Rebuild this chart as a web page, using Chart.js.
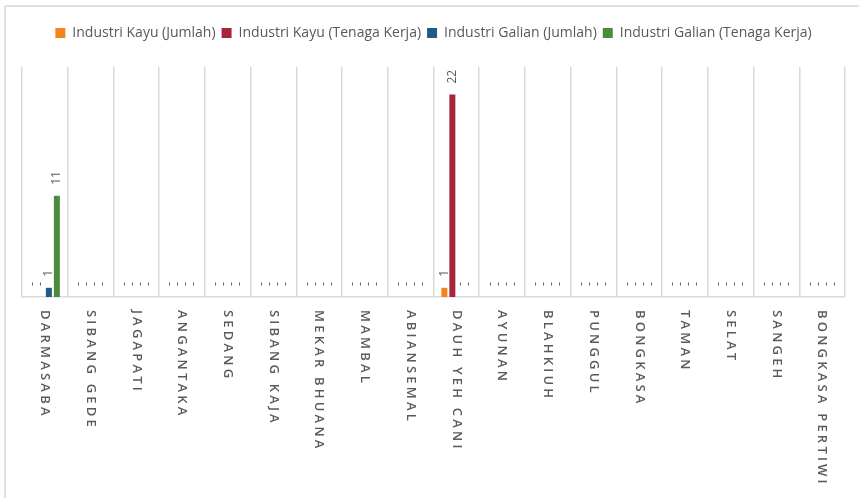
<!DOCTYPE html>
<html>
<head>
<meta charset="utf-8">
<title>Industri Kayu dan Galian</title>
<script src="https://cdn.jsdelivr.net/npm/chart.js@4.4.0/dist/chart.umd.min.js"></script>
<style>
    html, body { margin: 0; padding: 0; background: #fff; overflow: hidden; }
    #frame {
        position: absolute; left: 4px; top: 5px; width: 880px; height: 520px;
        border: 2px solid #e0e0e0; border-radius: 2px; box-sizing: border-box;
    }
    #wrap { position: absolute; left: 0; top: 0; width: 859px; height: 498px; }
</style>
</head>
<body>
<div id="frame"></div>
<div id="wrap"><canvas id="industriChart"></canvas></div>
<script>
// Data
const desa = ['DARMASABA', 'SIBANG GEDE', 'JAGAPATI', 'ANGANTAKA', 'SEDANG', 'SIBANG KAJA',
    'MEKAR BHUANA', 'MAMBAL', 'ABIANSEMAL', 'DAUH YEH CANI', 'AYUNAN', 'BLAHKIUH',
    'PUNGGUL', 'BONGKASA', 'TAMAN', 'SELAT', 'SANGEH', 'BONGKASA PERTIWI'];

const kayuJumlah      = [0, 0, 0, 0, 0, 0, 0, 0, 0, 1, 0, 0, 0, 0, 0, 0, 0, 0];
const kayuTenagaKerja = [0, 0, 0, 0, 0, 0, 0, 0, 0, 22, 0, 0, 0, 0, 0, 0, 0, 0];
const galianJumlah    = [1, 0, 0, 0, 0, 0, 0, 0, 0, 0, 0, 0, 0, 0, 0, 0, 0, 0];
const galianTenagaKerja = [11, 0, 0, 0, 0, 0, 0, 0, 0, 0, 0, 0, 0, 0, 0, 0, 0, 0];

const TEXT_GREY = '#595959';

// legend height fixed so the plot starts where the reference does
const legendSpace = {
    id: 'legendSpace',
    beforeInit(chart) {
        const fit = chart.legend.fit;
        chart.legend.fit = function() {
            fit.call(this);
            this.height = 47;
        };
    }
};

// value labels, rotated, "-" for zero
const valueLabels = {
    id: 'valueLabels',
    afterDatasetsDraw(chart) {
        const ctx = chart.ctx;
        ctx.save();
        ctx.font = '12px "Open Sans"';
        ctx.fillStyle = TEXT_GREY;
        ctx.textAlign = 'left';
        ctx.textBaseline = 'middle';
        chart.data.datasets.forEach((ds, i) => {
            const meta = chart.getDatasetMeta(i);
            meta.data.forEach((bar, j) => {
                const v = ds.data[j];
                const txt = v === 0 ? '-' : String(v);
                ctx.save();
                ctx.translate(bar.x, bar.y - 11);
                ctx.rotate(-Math.PI / 2);
                ctx.fillText(txt, 0, 0);
                ctx.restore();
            });
        });
        ctx.restore();
    }
};

// category labels, rotated clockwise, reading top to bottom
const categoryLabels = {
    id: 'categoryLabels',
    afterDraw(chart) {
        const ctx = chart.ctx;
        const xScale = chart.scales.x;
        const top = chart.chartArea.bottom + 13;
        ctx.save();
        ctx.font = '600 13px "Open Sans"';
        ctx.fillStyle = '#5a5a5a';
        ctx.textAlign = 'left';
        ctx.textBaseline = 'middle';
        if ('letterSpacing' in ctx) ctx.letterSpacing = '3.2px';
        desa.forEach((name, i) => {
            ctx.save();
            ctx.translate(xScale.getPixelForTick(i), top);
            ctx.rotate(Math.PI / 2);
            ctx.fillText(name, 0, 0);
            ctx.restore();
        });
        ctx.restore();
    }
};

const ctx = document.getElementById('industriChart');

new Chart(ctx, {
    type: 'bar',
    data: {
        labels: desa,
        datasets: [{
            label: 'Industri Kayu (Jumlah)',
            data: kayuJumlah,
            backgroundColor: '#F7831E'
        }, {
            label: 'Industri Kayu (Tenaga Kerja)',
            data: kayuTenagaKerja,
            backgroundColor: '#A62639'
        }, {
            label: 'Industri Galian (Jumlah)',
            data: galianJumlah,
            backgroundColor: '#1F5B86'
        }, {
            label: 'Industri Galian (Tenaga Kerja)',
            data: galianTenagaKerja,
            backgroundColor: '#4C8B3B'
        }]
    },
    options: {
        responsive: true,
        maintainAspectRatio: false,
        animation: false,
        categoryPercentage: 0.7,
        barPercentage: 0.75,
        layout: {
            padding: { left: 22, right: 14, top: 20, bottom: 201 }
        },
        plugins: {
            legend: {
                display: true,
                position: 'top',
                labels: {
                    boxWidth: 10,
                    boxHeight: 10,
                    padding: 6,
                    color: TEXT_GREY,
                    font: { family: '"Open Sans"', size: 14 }
                }
            },
            tooltip: { enabled: false }
        },
        scales: {
            y: {
                display: false,
                min: 0,
                max: 25
            },
            x: {
                offset: true,
                grid: {
                    display: true,
                    offset: true,
                    color: '#d9d9d9',
                    lineWidth: 1.5,
                    drawTicks: false
                },
                border: { display: true, color: '#d9d9d9', width: 1.5 },
                ticks: { display: false }
            }
        }
    },
    plugins: [legendSpace, valueLabels, categoryLabels]
});
</script>
</body>
</html>
